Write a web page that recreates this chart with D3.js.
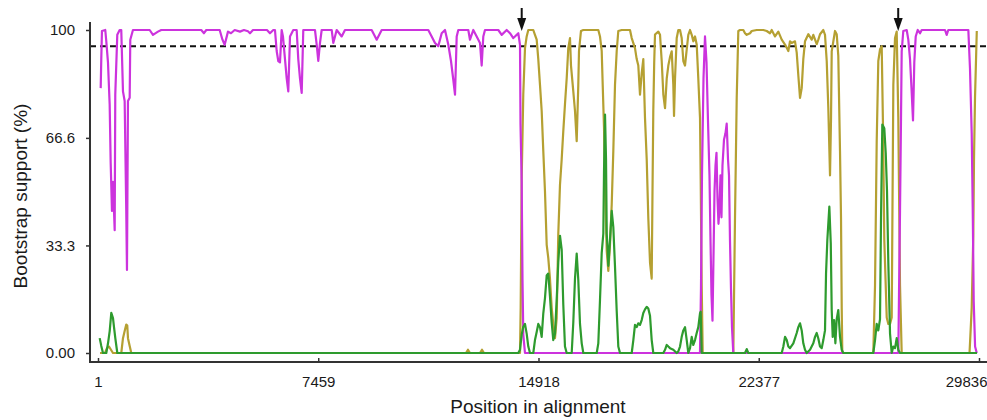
<!DOCTYPE html>
<html>
<head>
<meta charset="utf-8">
<script src="https://cdn.jsdelivr.net/npm/d3@7"></script>
<style>
  html, body { margin: 0; padding: 0; background: #fff; }
  svg { display: block; }
</style>
</head>
<body>
<svg id="chart" width="987" height="420"></svg>
<script>
// Bootscan support along the alignment: [position, bootstrap %]
const magentaTrace = [[92,82],[112,91],[135,99.7],[247,100],[281,96.6],[339,90],[396,77],[430,59],[474,44],[508,53],[566,38],[586,80],[654,98.5],[735,100],[789,100],[847,81],[904,78],[958,44],[982,25.7],[1016,78],[1074,79],[1094,97],[1185,100],[1751,100],[1863,98.5],[2032,99.5],[2144,100],[3498,100],[3590,99],[3668,100],[4122,100],[4216,97],[4291,95.4],[4403,99.5],[4504,99],[4630,100],[4809,99.5],[4944,100],[5080,99.6],[5148,99],[5249,100],[5723,100],[5825,99],[5937,100],[5994,100],[6052,93.5],[6106,90.4],[6164,90],[6221,100],[6265,98],[6391,85],[6445,81],[6503,98],[6614,100],[6729,100],[6783,91],[6841,85],[6899,80.5],[6953,100],[7349,100],[7407,95.5],[7461,90.4],[7519,96],[7576,100],[7915,100],[7969,96],[8027,98],[8084,100],[8253,98],[8365,100],[9269,100],[9439,97],[9608,100],[11186,100],[11301,98],[11413,96],[11525,95],[11640,99],[11752,100],[11863,95.5],[11955,90.4],[12033,84.6],[12091,80],[12148,98],[12202,100],[12541,100],[12598,97],[12710,100],[12825,98],[12937,96],[12994,89],[13049,98],[13106,100],[13557,100],[13672,98.5],[13841,100],[13953,99],[14065,97.5],[14122,98],[14234,99],[14292,95.4],[14309,71],[14349,53],[14376,23],[14403,5.7],[14461,0],[20387,0],[20421,20],[20455,55],[20506,85],[20557,98],[20608,90],[20658,72],[20709,55],[20743,35],[20777,18],[20811,10],[20845,30],[20879,50],[20913,58],[20946,62],[20980,48],[21014,40],[21048,45],[21082,55],[21115,42],[21149,58],[21200,66],[21251,68],[21292,71],[21336,60],[21370,55],[21403,35],[21437,20],[21471,8],[21515,0],[27059,0],[27104,0],[27127,18],[27161,44],[27195,72.8],[27218,93.4],[27272,99.7],[27388,100],[27442,97],[27500,91],[27550,82],[27601,72],[27645,90],[27693,98],[27760,100],[27838,99],[27896,100],[28685,100],[28742,98.5],[28796,100],[29475,100],[29531,88],[29589,68],[29623,45],[29657,16],[29703,2],[29760,0]];

const oliveTrace = [[68,0],[237,0],[305,1.5],[373,2],[440,1],[508,0],[789,0],[847,4.6],[904,6.8],[958,8.8],[992,8.5],[1016,4.6],[1074,2.2],[1128,0],[12463,0],[12530,1],[12598,0],[12937,0],[13005,1],[13072,0],[14292,0],[14315,14],[14349,54],[14403,80],[14461,94.4],[14518,98],[14573,100],[14742,100],[14799,98.5],[14857,97],[14911,91],[14969,83],[15026,75],[15081,62.5],[15138,50],[15196,33.5],[15250,29.4],[15307,23],[15365,14],[15419,8.8],[15477,4.6],[15534,10.8],[15588,36.6],[15646,52],[15704,60],[15758,68.7],[15815,77],[15873,85],[15927,94.4],[15985,97.5],[16019,89],[16097,81],[16154,75],[16212,65.6],[16266,83],[16290,93.5],[16357,99.7],[16436,100],[16944,100],[17001,98],[17059,93.5],[17093,83],[17137,69.7],[17171,52],[17229,31.6],[17283,25.4],[17340,33.5],[17398,46],[17452,62.5],[17509,83],[17567,93.5],[17621,99.7],[17736,100],[18017,100],[18075,97.5],[18186,94.4],[18244,91],[18298,89],[18356,80],[18413,86.6],[18468,91],[18525,72.8],[18583,60],[18637,41.8],[18695,28],[18752,23],[18779,50],[18806,75],[18837,90],[18864,98.6],[18976,99.5],[19034,98.5],[19091,90.4],[19146,80],[19203,75.8],[19261,85],[19315,89],[19372,91.6],[19430,93.4],[19484,83],[19508,73.4],[19542,85],[19599,97.5],[19653,100],[19711,100],[19768,97.5],[19823,90.4],[19880,89],[19938,94],[19992,98.5],[20050,100],[20107,98.5],[20161,96.5],[20219,98],[20276,95.5],[20330,85],[20388,72.8],[20411,54],[20445,21],[20479,0],[21516,0],[21573,41.8],[21631,79],[21685,99.7],[21743,100],[21855,100],[21912,99],[21970,98.5],[22082,99],[22139,99.7],[22308,100],[22532,100],[22647,99.7],[22759,99],[22816,100],[22928,98],[23040,99.5],[23155,97],[23267,95.5],[23325,94.5],[23379,93.5],[23436,96.5],[23494,96],[23605,96.5],[23663,93],[23717,86],[23775,79],[23832,82],[23886,91],[23944,96.5],[24056,98.7],[24171,97],[24225,98.5],[24340,95.6],[24395,97],[24452,98.7],[24564,100],[24621,98.5],[24679,90.4],[24733,75.8],[24791,55],[24825,72.8],[24848,93.4],[24960,99.7],[25017,98.7],[25071,92],[25129,62.5],[25163,41.8],[25187,14],[25207,0],[26257,0],[26315,21],[26372,65.6],[26426,90.4],[26484,94],[26541,95],[26585,70],[26629,35],[26711,11],[26765,9],[26823,9],[26880,11],[26935,83],[26992,97.5],[27049,99.5],[27103,72.8],[27161,21],[27218,0],[29515,0],[29542,5],[29589,14],[29643,36.6],[29667,60],[29701,79],[29761,99.7]];

const greenTrace = [[58,4.6],[112,2.2],[170,0],[282,0],[340,3],[397,6.8],[451,12.4],[509,10.8],[543,8],[587,4.6],[655,0],[14234,0],[14292,1],[14349,5.7],[14403,8.1],[14461,9],[14518,6],[14573,2],[14631,0],[14742,0],[14799,4],[14857,6.5],[14911,9],[14969,8],[15026,5],[15081,12.3],[15138,17],[15196,24],[15250,24.6],[15307,17.5],[15365,9.5],[15419,4],[15477,6],[15534,16.4],[15588,28],[15646,36.3],[15704,32],[15758,15],[15815,2],[15873,0],[16043,0],[16097,9.5],[16154,23],[16212,30.8],[16266,22.6],[16324,9],[16382,3],[16436,0],[16890,0],[16944,3],[17001,16.4],[17059,31],[17114,37],[17137,56],[17171,73.8],[17205,60],[17229,37],[17262,31.6],[17283,27],[17340,35],[17398,44],[17452,39],[17509,26.8],[17567,13],[17621,2],[17679,0],[18075,0],[18130,4],[18186,8.7],[18244,8],[18298,9.2],[18356,8.7],[18413,10.2],[18468,12.4],[18525,13.5],[18583,14.3],[18637,13.8],[18695,11.5],[18752,4],[18806,0],[19146,0],[19203,1],[19261,2.5],[19315,2],[19372,1.5],[19484,1],[19599,0],[19653,0.5],[19711,2],[19768,5],[19823,7],[19880,8],[19938,4],[19992,0],[20050,1.5],[20107,5],[20161,2.5],[20219,4],[20276,6.2],[20330,8],[20388,12.3],[20411,12.8],[20445,0],[21912,0],[21970,1.2],[22024,0],[23155,0],[23210,2],[23267,5],[23325,4],[23379,2],[23436,1.5],[23548,3],[23663,6.2],[23717,8],[23775,9.2],[23832,7],[23886,3],[23944,1],[24001,0],[24114,1],[24225,3],[24283,5],[24340,6.2],[24395,4.5],[24452,2],[24510,1.5],[24564,4],[24621,7],[24656,24.6],[24700,35],[24768,45.3],[24816,34],[24848,13.3],[24882,5],[24928,10.2],[24972,3],[25017,10.5],[25071,13.3],[25129,5],[25187,1],[25241,0],[26257,0],[26315,4],[26372,9],[26426,7],[26484,10.5],[26518,41.8],[26562,70.7],[26629,69.6],[26677,62],[26721,50],[26765,28],[26823,6],[26880,0],[26935,2],[26992,1.5],[27049,4.6],[27103,1],[27161,0],[29770,0]];

const xTicks = [1, 7459, 14918, 22377, 29836];
const yTicks = [0, 33.3, 66.6, 100];
const yTickLabels = ["0.00", "33.3", "66.6", "100"];
const cutoff = 95;                 // significance threshold line
const breakpoints = [14350, 27100]; // arrow markers above the plot

const font = "'Liberation Sans', Arial, sans-serif";
const svg = d3.select("#chart");

const x = d3.scaleLinear().domain([1, 29836]).range([98, 979]);
const y = d3.scaleLinear().domain([0, 100]).range([353, 30]);

const frameLeft = 90, frameBottom = 362, frameTop = 22, frameRight = 987;

// threshold line
svg.append("line")
  .attr("x1", frameLeft).attr("x2", frameRight)
  .attr("y1", y(cutoff)).attr("y2", y(cutoff))
  .attr("stroke", "#111").attr("stroke-width", 2)
  .attr("stroke-dasharray", "6,4");

// traces
const line = d3.line().x(d => x(d[0])).y(d => y(d[1]));
const traces = [
  { data: oliveTrace, color: "#b5a032" },
  { data: magentaTrace, color: "#cc33dd" },
  { data: greenTrace, color: "#2e9b2e" }
];
svg.append("g").selectAll("path").data(traces).join("path")
  .attr("d", d => line(d.data))
  .attr("fill", "none")
  .attr("stroke", d => d.color)
  .attr("stroke-width", 2.2)
  .attr("stroke-linejoin", "round");

// Y axis
const yAxis = svg.append("g")
  .attr("transform", `translate(${frameLeft},0)`)
  .call(d3.axisLeft(y).tickValues(yTicks)
    .tickFormat((d, i) => yTickLabels[i])
    .tickSize(4).tickPadding(11));
yAxis.select(".domain").remove();
yAxis.selectAll(".tick line").attr("stroke", "#333").attr("stroke-width", 1.5);
yAxis.selectAll(".tick text")
  .attr("fill", "#1a1a1a").style("font-family", font).style("font-size", "15px");

// X axis
const xAxis = svg.append("g")
  .attr("transform", `translate(0,${frameBottom})`)
  .call(d3.axisBottom(x).tickValues(xTicks)
    .tickFormat(d3.format("d"))
    .tickSize(0).tickPadding(14));
xAxis.select(".domain").remove();
xAxis.selectAll(".tick line").attr("y1", -4).attr("y2", 1)
  .attr("stroke", "#333").attr("stroke-width", 1.5);
xAxis.selectAll(".tick text")
  .attr("fill", "#1a1a1a").style("font-family", font).style("font-size", "15px");
// keep the last label inside the canvas
xAxis.selectAll(".tick text").filter(d => d === xTicks[xTicks.length - 1])
  .attr("text-anchor", "end").attr("x", frameRight - x(xTicks[xTicks.length - 1]));

// frame lines
svg.append("line")
  .attr("x1", frameLeft).attr("x2", frameLeft)
  .attr("y1", frameTop).attr("y2", frameBottom + 1)
  .attr("stroke", "#333").attr("stroke-width", 2);
svg.append("line")
  .attr("x1", frameLeft).attr("x2", frameRight)
  .attr("y1", frameBottom).attr("y2", frameBottom)
  .attr("stroke", "#333").attr("stroke-width", 2);

// breakpoint arrows
const arrows = svg.append("g").selectAll("g").data(breakpoints).join("g")
  .attr("transform", d => `translate(${x(d)},0)`);
arrows.append("line")
  .attr("x1", 0).attr("x2", 0).attr("y1", 8).attr("y2", 21)
  .attr("stroke", "#111").attr("stroke-width", 2);
arrows.append("path")
  .attr("d", "M-4.5,18 L4.5,18 L0,31 Z")
  .attr("fill", "#111");

// axis titles
svg.append("text")
  .attr("x", 538).attr("y", 413)
  .attr("text-anchor", "middle")
  .attr("fill", "#1a1a1a")
  .style("font-family", font).style("font-size", "19px")
  .text("Position in alignment");

svg.append("text")
  .attr("transform", "translate(27,196) rotate(-90)")
  .attr("text-anchor", "middle")
  .attr("fill", "#1a1a1a")
  .style("font-family", font).style("font-size", "19px")
  .text("Bootstrap support (%)");
</script>
</body>
</html>
